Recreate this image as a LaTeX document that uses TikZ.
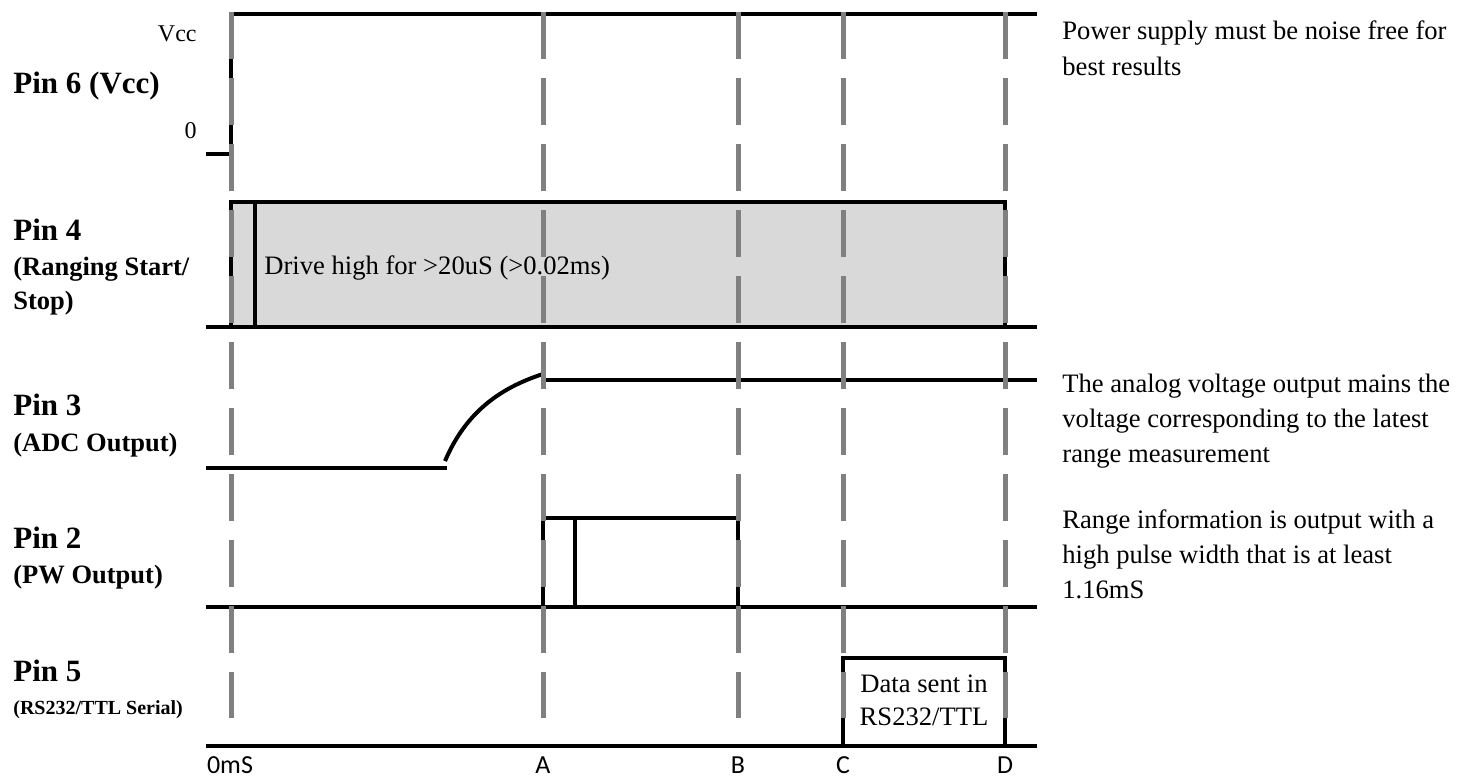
\documentclass[tikz,border=0pt]{standalone}
\usepackage{fontspec}
\setmainfont{Liberation Serif}
\newfontfamily\calib{Carlito}
\definecolor{dashgray}{HTML}{808080}
\definecolor{boxgray}{HTML}{D9D9D9}
\begin{document}
\begin{tikzpicture}[x=0.5pt,y=-0.5pt,
  sig/.style={line width=2pt, draw=black},
  gridline/.style={line width=2.5pt, draw=dashgray, dash pattern=on 23.5pt off 9.5pt},
  pin/.style={font=\fontsize{15.5}{18}\selectfont\bfseries, anchor=base west, inner sep=0pt},
  sub/.style={font=\fontsize{13.25}{16}\selectfont\bfseries, anchor=base west, inner sep=0pt},
  subsmall/.style={font=\fontsize{10}{12}\selectfont\bfseries, anchor=base west, inner sep=0pt},
  note/.style={font=\fontsize{13.3}{17}\selectfont, anchor=base west, inner sep=0pt},
  level/.style={font=\fontsize{12}{14}\selectfont, anchor=base east, inner sep=0pt},
  tick/.style={font=\calib\fontsize{13}{15}\selectfont, anchor=base, inner sep=0pt}
]
\useasboundingbox (0,0) rectangle (1457,778);

% ---------- Pin 6 ----------
\draw[sig] (206,154) -- (231,154) -- (231,14) -- (1037,14);
\node[level] (vcc) at (197,41) {Vcc};
\node[level] (zero) at (197,138) {0};
\node[pin] (p6) at (13,93) {Pin 6 (Vcc)};

% ---------- Pin 4 ----------
\fill[boxgray] (231,202) rectangle (1005,327);
\draw[sig] (206,327) -- (1037,327);
\draw[sig] (231,327) -- (231,202) -- (1005,202) -- (1005,327);
\draw[sig] (255,202) -- (255,327);
\node[note] (drive) at (264,274) {Drive high for >20uS (>0.02ms)};
\node[pin] (p4) at (13,240) {Pin 4};
\node[sub] (p4a) at (13,275) {(Ranging Start/};
\node[sub] (p4b) at (13,309) {Stop)};

% ---------- Pin 3 ----------
\draw[sig] (206,468) -- (447,468);
\draw[sig] (445,461) .. controls (466,412) and (500,388) .. (543,374);
\draw[sig] (545,380) -- (1037,380);
\node[pin] (p3) at (13,415) {Pin 3};
\node[sub] (p3a) at (13,451) {(ADC Output)};

% ---------- Pin 2 ----------
\draw[sig] (206,607) -- (1037,607);
\draw[sig] (543,607) -- (543,518) -- (738,518) -- (738,607);
\draw[sig] (575,518) -- (575,607);
\node[pin] (p2) at (13,548) {Pin 2};
\node[sub] (p2a) at (13,583) {(PW Output)};

% ---------- Pin 5 ----------
\draw[sig] (206,746) -- (1037,746);
\draw[sig] (843,746) -- (843,658) -- (1005,658) -- (1005,746);
\node[note, anchor=base] (data1) at (924,692) {Data sent in};
\node[note, anchor=base] (data2) at (924,725) {RS232/TTL};
\node[pin] (p5) at (13,681) {Pin 5};
\node[subsmall] (p5a) at (13,714) {(RS232/TTL Serial)};

% ---------- time markers ----------
\foreach \x/\n in {231/t0,543/tA,738/tB,843/tC,1005/tD}{
  \coordinate (\n top) at (\x,12);
  \coordinate (\n bot) at (\x,718);
  \draw[gridline] (\n top) -- (\n bot);
}
\node[tick] (l0) at (230,773) {0mS};
\node[tick] (lA) at (543,773) {A};
\node[tick] (lB) at (738,773) {B};
\node[tick] (lC) at (843,773) {C};
\node[tick] (lD) at (1005,773) {D};

% ---------- notes ----------
\node[note] (n1a) at (1062,39) {Power supply must be noise free for};
\node[note] (n1b) at (1062,75) {best results};
\node[note] (n2a) at (1062,392) {The analog voltage output mains the};
\node[note] (n2b) at (1062,427) {voltage corresponding to the latest};
\node[note] (n2c) at (1062,462) {range measurement};
\node[note] (n3a) at (1062,528) {Range information is output with a};
\node[note] (n3b) at (1062,563) {high pulse width that is at least};
\node[note] (n3c) at (1062,598) {1.16mS};
\end{tikzpicture}
\end{document}
